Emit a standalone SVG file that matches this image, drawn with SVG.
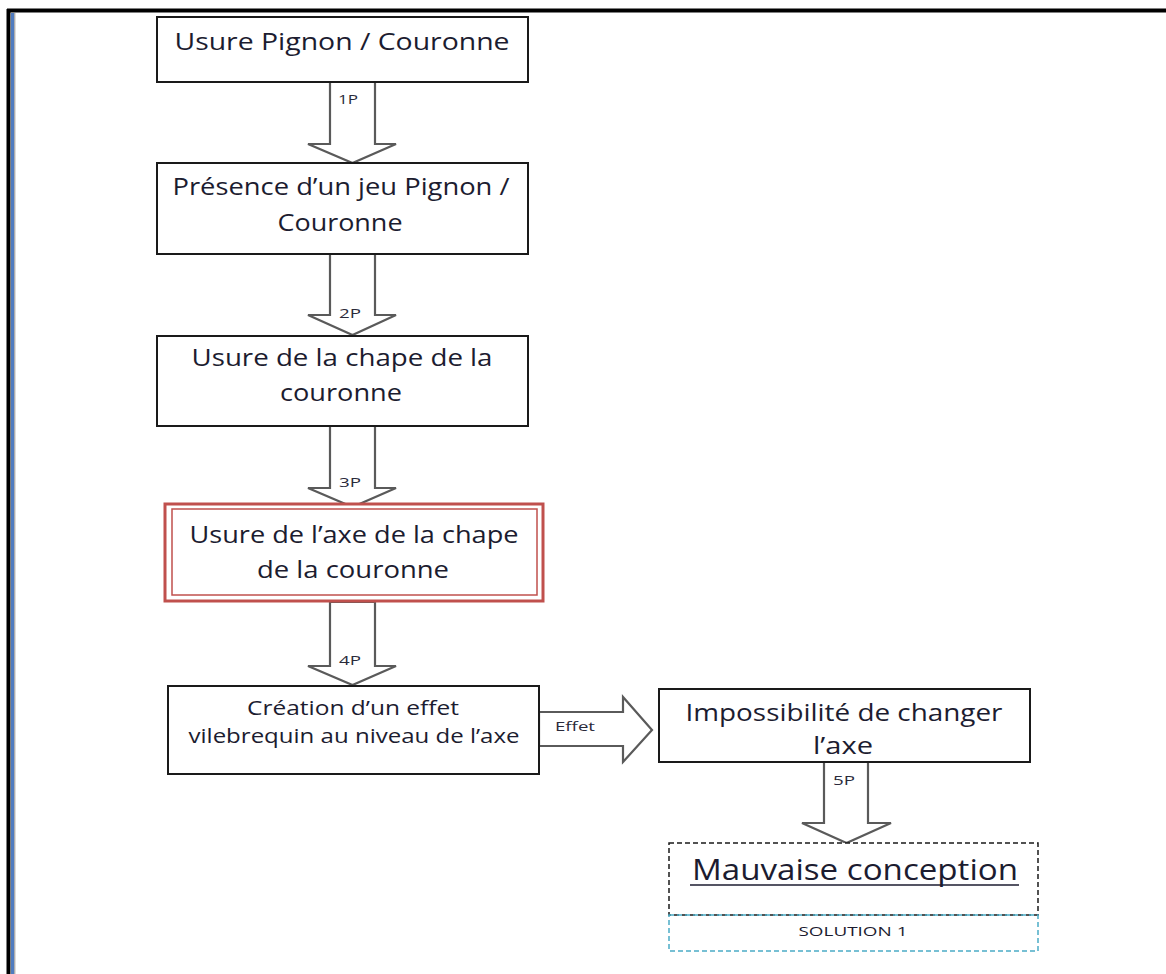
<svg xmlns="http://www.w3.org/2000/svg" width="1166" height="974" viewBox="0 0 1166 974">
<style>
.box{fill:#fff;stroke:#1a1a1a;stroke-width:2}
.arr{fill:#fff;stroke:#5a5a5a;stroke-width:2.2;stroke-linejoin:miter}
.t{font-family:"Open Sans",Lato,sans-serif;fill:#1c1c30;text-anchor:middle}
.big{font-size:23px}
.mid{font-size:20px}
.lbl{font-family:"Open Sans",Lato,sans-serif;font-size:13px;fill:#2a2a3a}
</style>
<rect width="1166" height="974" fill="#fff"/>
<g id="frame">
<line x1="7" y1="10.5" x2="1166" y2="10.5" stroke="#000" stroke-width="4"/>
<line x1="8.5" y1="9" x2="8.5" y2="974" stroke="#000" stroke-width="4"/>
<line x1="12.5" y1="13" x2="12.5" y2="974" stroke="#4f7bbf" stroke-width="3"/>
<line x1="14.8" y1="13" x2="14.8" y2="974" stroke="#8a8a8a" stroke-width="1"/>
</g>
<g id="connectors">
<polygon class="arr" points="330,82 375,82 375,144 396,144 352.5,163 308,144 330,144"/>
<text class="lbl" x="338" y="104" textLength="20" lengthAdjust="spacingAndGlyphs">1P</text>
<polygon class="arr" points="330,254 375,254 375,315 396,315 352.5,335 308,315 330,315"/>
<text class="lbl" x="339" y="318" textLength="22" lengthAdjust="spacingAndGlyphs">2P</text>
<polygon class="arr" points="330,426 375,426 375,488 396,488 352.5,507 308,488 330,488"/>
<text class="lbl" x="339" y="487" textLength="22" lengthAdjust="spacingAndGlyphs">3P</text>
<polygon class="arr" points="330,602 375,602 375,666 396,666 352.5,685 308,666 330,666"/>
<text class="lbl" x="339" y="665" textLength="22" lengthAdjust="spacingAndGlyphs">4P</text>
<polygon class="arr" points="539,712 623,712 623,697 652,730 623,762 623,746 539,746"/>
<text class="lbl" x="555" y="731" textLength="40" lengthAdjust="spacingAndGlyphs">Effet</text>
<polygon class="arr" points="824,762 868,762 868,823 891,823 846.5,843 802,823 824,823"/>
<text class="lbl" x="833" y="785" textLength="22" lengthAdjust="spacingAndGlyphs">5P</text>
</g>
<g id="n1">
<rect class="box" x="157" y="17" width="371" height="65"/>
<text class="t big" x="342" y="50" textLength="335" lengthAdjust="spacingAndGlyphs">Usure Pignon / Couronne</text>
</g>
<g id="n2">
<rect class="box" x="157" y="163" width="371" height="91"/>
<text class="t big" x="341" y="195" textLength="337" lengthAdjust="spacingAndGlyphs">Présence d’un jeu Pignon /</text>
<text class="t big" x="340" y="231" textLength="125" lengthAdjust="spacingAndGlyphs">Couronne</text>
</g>
<g id="n3">
<rect class="box" x="157" y="336" width="371" height="90"/>
<text class="t big" x="342" y="366" textLength="301" lengthAdjust="spacingAndGlyphs">Usure de la chape de la</text>
<text class="t big" x="341" y="401" textLength="122" lengthAdjust="spacingAndGlyphs">couronne</text>
</g>
<g id="n4">
<rect x="165" y="504" width="378" height="97" fill="#fff" stroke="#c0504d" stroke-width="3"/>
<rect x="172" y="509" width="365" height="86" fill="none" stroke="#c0504d" stroke-width="1.5"/>
<text class="t big" x="354" y="543" textLength="329" lengthAdjust="spacingAndGlyphs">Usure de l’axe de la chape</text>
<text class="t big" x="353" y="578" textLength="192" lengthAdjust="spacingAndGlyphs">de la couronne</text>
</g>
<g id="n5">
<rect class="box" x="168" y="686" width="371" height="88"/>
<text class="t mid" x="353" y="715" textLength="212" lengthAdjust="spacingAndGlyphs">Création d’un effet</text>
<text class="t mid" x="354" y="743" textLength="331" lengthAdjust="spacingAndGlyphs">vilebrequin au niveau de l’axe</text>
</g>
<g id="n6">
<rect class="box" x="659" y="689" width="371" height="73"/>
<text class="t big" x="844" y="721" textLength="317" lengthAdjust="spacingAndGlyphs">Impossibilité de changer</text>
<text class="t big" x="843" y="754" textLength="60" lengthAdjust="spacingAndGlyphs">l’axe</text>
</g>
<g id="n7">
<rect x="669" y="843" width="369" height="72" fill="#fff" stroke="#1a1a1a" stroke-width="1.5" stroke-dasharray="5,3"/>
<text class="t" x="855" y="880" font-size="30" textLength="326" lengthAdjust="spacingAndGlyphs">Mauvaise conception</text>
<line x1="690" y1="885" x2="1019" y2="885" stroke="#1c1c30" stroke-width="1.5"/>
<rect x="669" y="915" width="369" height="36" fill="none" stroke="#4bacc6" stroke-width="1.5" stroke-dasharray="5,3"/>
<text class="t" x="853" y="936" font-size="13" textLength="109" lengthAdjust="spacingAndGlyphs">SOLUTION 1</text>
</g>
</svg>
